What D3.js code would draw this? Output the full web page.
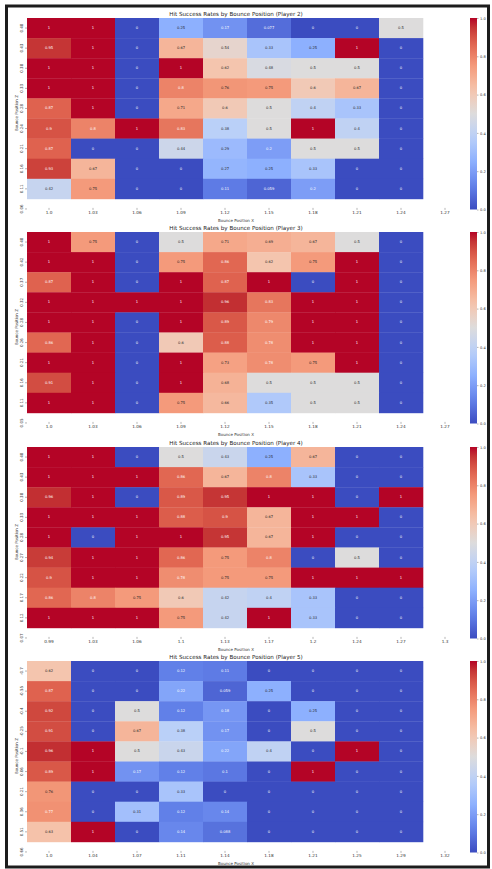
<!DOCTYPE html>
<html><head><meta charset="utf-8">
<script src="https://cdn.jsdelivr.net/npm/d3@7"></script>
<style>html,body{margin:0;padding:0;background:#fff;}svg{display:block;font-family:"DejaVu Sans",sans-serif;}</style>
</head><body><svg id="c" width="492" height="869"></svg>
<script>
// ---------- data ----------
const players = ["Player 2", "Player 3", "Player 4", "Player 5"];

const xTicksP2 = ["1.0","1.03","1.06","1.09","1.12","1.15","1.18","1.21","1.24","1.27"];
const yTicksP2 = ["0.48","0.43","0.38","0.33","0.28","0.24","0.21","0.16","0.11","0.06"];
const valuesP2 = [
  [1, 1, 0, 0.25, 0.17, 0.077, 0, 0, 0.5, null],
  [0.95, 1, 0, 0.67, 0.54, 0.33, 0.25, 1, 0, null],
  [1, 1, 0, 1, 0.62, 0.48, 0.5, 0.5, 0, null],
  [1, 1, 0, 0.8, 0.76, 0.75, 0.6, 0.67, 0, null],
  [0.87, 1, 0, 0.71, 0.6, 0.5, 0.4, 0.33, 0, null],
  [0.9, 0.8, 1, 0.83, 0.38, 0.5, 1, 0.4, 0, null],
  [0.87, 0, 0, 0.44, 0.29, 0.2, 0.5, 0.5, 0, null],
  [0.93, 0.67, 0, 0, 0.27, 0.25, 0.33, 0, 0, null],
  [0.42, 0.75, 0, 0, 0.11, 0.059, 0.2, 0, 0, null],
  [null, null, null, null, null, null, null, null, null, null]
];

const xTicksP3 = ["1.0","1.03","1.06","1.09","1.12","1.15","1.18","1.21","1.24","1.27"];
const yTicksP3 = ["0.48","0.42","0.37","0.32","0.28","0.26","0.21","0.16","0.11","0.05"];
const valuesP3 = [
  [1, 0.75, 0, 0.5, 0.71, 0.69, 0.67, 0.5, 0, null],
  [1, 1, 0, 0.75, 0.86, 0.62, 0.75, 1, 0, null],
  [0.87, 1, 0, 1, 0.87, 1, 0, 1, 0, null],
  [1, 1, 1, 1, 0.96, 0.83, 1, 1, 0, null],
  [1, 1, 0, 1, 0.89, 0.79, 1, 1, 0, null],
  [0.86, 1, 0, 0.6, 0.88, 0.78, 1, 1, 0, null],
  [1, 1, 0, 1, 0.73, 0.78, 0.75, 1, 0, null],
  [0.91, 1, 0, 1, 0.68, 0.5, 0.5, 0.5, 0, null],
  [1, 1, 0, 0.75, 0.66, 0.35, 0.5, 0.5, 0, null],
  [null, null, null, null, null, null, null, null, null, null]
];

const xTicksP4 = ["0.99","1.03","1.06","1.1","1.13","1.17","1.2","1.24","1.27","1.3"];
const yTicksP4 = ["0.48","0.43","0.38","0.33","0.28","0.27","0.22","0.17","0.12","0.07"];
const valuesP4 = [
  [1, 1, 0, 0.5, 0.43, 0.25, 0.67, 0, 0, null],
  [1, 1, 1, 0.86, 0.67, 0.8, 0.33, 0, 0, null],
  [0.96, 1, 0, 0.89, 0.95, 1, 1, 0, 1, null],
  [1, 1, 1, 0.88, 0.9, 0.67, 1, 1, 0, null],
  [1, 0, 1, 1, 0.95, 0.67, 1, 0, 0, null],
  [0.94, 1, 1, 0.86, 0.75, 0.8, 0, 0.5, 0, null],
  [0.9, 1, 1, 0.78, 0.75, 0.75, 1, 1, 1, null],
  [0.86, 0.8, 0.75, 0.6, 0.42, 0.4, 0.33, 0, 0, null],
  [1, 1, 1, 0.75, 0.42, 1, 0.33, 0, 0, null],
  [null, null, null, null, null, null, null, null, null, null]
];

const xTicksP5 = ["1.0","1.04","1.07","1.11","1.14","1.18","1.21","1.25","1.29","1.32"];
const yTicksP5 = ["-0.7","-0.55","-0.4","-0.25","-0.1","0.06","0.21","0.36","0.51","0.66"];
const valuesP5 = [
  [0.62, 0, 0, 0.12, 0.11, 0, 0, 0, 0, null],
  [0.87, 0, 0, 0.22, 0.059, 0.25, 0, 0, 0, null],
  [0.92, 0, 0.5, 0.12, 0.18, 0, 0.25, 0, 0, null],
  [0.91, 0, 0.67, 0.38, 0.17, 0, 0.5, 0, 0, null],
  [0.96, 1, 0.5, 0.43, 0.22, 0.4, 0, 1, 0, null],
  [0.89, 1, 0.17, 0.12, 0.1, 0, 1, 0, 0, null],
  [0.76, 0, 0, 0.33, 0, 0, 0, 0, 0, null],
  [0.77, 0, 0.31, 0.12, 0.14, 0, 0, 0, 0, null],
  [0.63, 1, 0, 0.14, 0.088, 0, 0, 0, 0, null],
  [null, null, null, null, null, null, null, null, null, null]
];

const colorbarTicks = [0, 0.2, 0.4, 0.6, 0.8, 1.0];

// ---------- setup ----------
const panelData = [
  {player: players[0], xt: xTicksP2, yt: yTicksP2, vals: valuesP2},
  {player: players[1], xt: xTicksP3, yt: yTicksP3, vals: valuesP3},
  {player: players[2], xt: xTicksP4, yt: yTicksP4, vals: valuesP4},
  {player: players[3], xt: xTicksP5, yt: yTicksP5, vals: valuesP5}
];
const panelTops = [18, 232, 447, 661];

const coolwarmStops = ["#3b4cc0","#6282ea","#8db0fe","#b8d0f9","#dddcdc","#f5c4ac","#f49a7b","#de604d","#b40426"];
const cw = d3.scaleLinear().domain(d3.range(9).map(i => i / 8)).range(coolwarmStops).interpolate(d3.interpolateLab).clamp(true);

function lum(c) {
  const r = d3.rgb(c);
  const f = v => { v /= 255; return v <= 0.03928 ? v / 12.92 : Math.pow((v + 0.055) / 1.055, 2.4); };
  return 0.2126 * f(r.r) + 0.7152 * f(r.g) + 0.0722 * f(r.b);
}
const fmt = d3.format(".2~g");

const svg = d3.select("#c");
svg.append("rect").attr("x", 0).attr("y", 0).attr("width", 492).attr("height", 869).attr("fill", "#fff");

const defs = svg.append("defs");
const grad = defs.append("linearGradient").attr("id", "cwg").attr("x1", 0).attr("y1", 1).attr("x2", 0).attr("y2", 0);
d3.range(0, 1.0001, 0.05).forEach(t => grad.append("stop").attr("offset", t).attr("stop-color", cw(t)));

const gridLeft = 27, gridRight = 467, rowH = 20.1;

panelData.forEach((p, pi) => {
  const top = panelTops[pi];
  const g = svg.append("g");
  const x = d3.scaleBand().domain(d3.range(10)).range([gridLeft, gridRight]).padding(0);
  const y = d3.scaleBand().domain(d3.range(10)).range([top, top + rowH * 10]).padding(0);

  const cells = [];
  p.vals.forEach((row, ri) => row.forEach((v, ci) => { if (v !== null) cells.push({r: ri, c: ci, v}); }));

  g.selectAll("rect.cell").data(cells).join("rect")
    .attr("x", d => x(d.c)).attr("y", d => y(d.r))
    .attr("width", x.bandwidth() + 0.3).attr("height", y.bandwidth() + 0.3)
    .attr("fill", d => cw(d.v));

  g.selectAll("text.ann").data(cells).join("text")
    .attr("x", d => x(d.c) + x.bandwidth() / 2).attr("y", d => y(d.r) + y.bandwidth() / 2)
    .attr("text-anchor", "middle").attr("dominant-baseline", "central")
    .attr("font-size", 3.7)
    .attr("fill", d => lum(cw(d.v)) > 0.408 ? "#262626" : "#fff")
    .text(d => fmt(d.v));

  // title
  g.append("text").attr("x", 236).attr("y", top - 2.5).attr("text-anchor", "middle")
    .attr("font-size", 5.6).attr("fill", "#222")
    .text("Hit Success Rates by Bounce Position (" + p.player + ")");

  // x ticks
  const xBase = top + rowH * 9;
  p.xt.forEach((t, i) => {
    const cx = x(i) + x.bandwidth() / 2;
    g.append("line").attr("x1", cx).attr("x2", cx).attr("y1", xBase + 9).attr("y2", xBase + 11)
      .attr("stroke", "#444").attr("stroke-width", 0.4);
    g.append("text").attr("x", cx).attr("y", xBase + 15.5).attr("text-anchor", "middle")
      .attr("font-size", 4.2).attr("fill", "#333").text(t);
  });
  g.append("text").attr("x", 236).attr("y", xBase + 23.5).attr("text-anchor", "middle")
    .attr("font-size", 4).attr("fill", "#333").text("Bounce Position X");

  // y ticks
  p.yt.forEach((t, i) => {
    const cy = y(i) + y.bandwidth() / 2;
    g.append("line").attr("x1", gridLeft - 2).attr("x2", gridLeft).attr("y1", cy).attr("y2", cy)
      .attr("stroke", "#444").attr("stroke-width", 0.4);
    g.append("text").attr("transform", `translate(${gridLeft - 4},${cy}) rotate(-90)`)
      .attr("text-anchor", "middle").attr("font-size", 4).attr("fill", "#333").text(t);
  });
  g.append("text").attr("transform", `translate(17.5,${top + 95}) rotate(-90)`)
    .attr("text-anchor", "middle").attr("font-size", 4).attr("fill", "#333").text("Bounce Position Z");

  // colorbar
  const cbTop = top, cbH = 191.5, cbX = 470, cbW = 7;
  const cy2 = d3.scaleLinear().domain([0, 1]).range([cbTop + cbH, cbTop]);
  g.append("rect").attr("x", cbX).attr("y", cbTop).attr("width", cbW).attr("height", cbH).attr("fill", "url(#cwg)");
  const ax = d3.axisRight(cy2).tickValues(colorbarTicks).tickFormat(d3.format(".1f")).tickSize(1.5).tickPadding(1.5);
  const axg = g.append("g").attr("transform", `translate(${cbX + cbW},0)`).call(ax);
  axg.select(".domain").remove();
  axg.selectAll("line").attr("stroke", "#444").attr("stroke-width", 0.4);
  axg.selectAll("text").attr("font-size", 3.6).attr("fill", "#333").attr("font-family", "DejaVu Sans");
});

// screenshot frame
svg.append("rect").attr("x", 6.5).attr("y", 6).attr("width", 482).attr("height", 861)
  .attr("fill", "none").attr("stroke", "#1c1c1c").attr("stroke-width", 3);
</script>
</body></html>
